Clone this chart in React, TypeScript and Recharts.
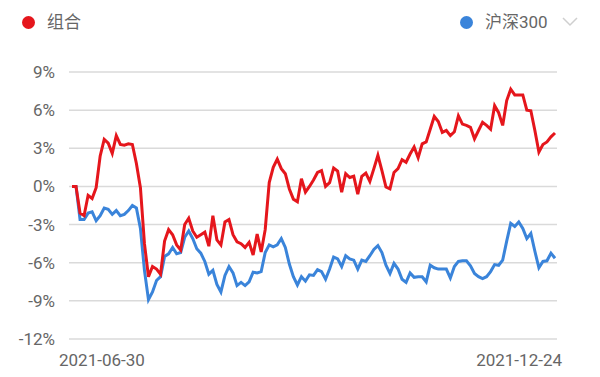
import React from 'react';
import { LineChart, Line, XAxis, YAxis, CartesianGrid } from 'recharts';

// daily cumulative return (%), 2021-06-30 .. 2021-12-24
const portfolio = [
    0, 0, -2.1, -2.3, -0.7, -0.95, -0.1, 2.4, 3.7, 3.4,
    2.6, 4.0, 3.3, 3.25, 3.35, 3.3, 1.8, -0.1, -4.5, -7.1,
    -6.3, -6.5, -6.9, -4.3, -3.4, -3.8, -4.6, -5.0, -3.0, -2.5,
    -3.5, -4.0, -3.8, -3.6, -4.7, -2.3, -4.2, -4.6, -2.8, -2.6,
    -3.8, -4.35, -4.5, -4.8, -4.4, -5.4, -3.75, -5.15, -3.4, 0.3,
    1.5, 2.15, 1.4, 1.0, -0.2, -1.0, -1.2, 0.6, -0.45, 0.0,
    0.5, 1.1, 1.25, 0.0, 0.3, 1.45, 1.2, -0.45, 1.0, 0.7,
    0.8, -0.6, 0.8, 1.05, 0.4, 1.4, 2.45, 1.25, -0.05, -0.2,
    1.1, 1.4, 2.1, 1.9, 2.55, 3.1, 2.25, 3.35, 3.5, 4.5,
    5.5, 5.1, 4.25, 4.4, 4.0, 4.3, 5.55, 4.9, 4.8, 4.65,
    3.75, 4.4, 5.05, 4.8, 4.5, 6.35, 5.8, 4.8, 6.75, 7.65,
    7.2, 7.2, 7.2, 6.0, 5.95, 4.4, 2.7, 3.3, 3.5, 3.9,
    4.2,
];

const csi300 = [
    0, 0, -2.6, -2.6, -2.1, -2.0, -2.7, -2.3, -1.7, -1.8,
    -2.2, -1.9, -2.3, -2.2, -1.9, -1.5, -1.7, -3.3, -6.6, -8.9,
    -8.3, -7.4, -7.1, -5.5, -5.3, -4.8, -5.3, -5.2, -4.0, -3.5,
    -4.1, -4.9, -5.25, -5.9, -6.9, -6.6, -7.7, -8.3, -7.0, -6.3,
    -6.8, -7.8, -7.55, -7.8, -7.5, -6.75, -6.8, -6.7, -5.2, -4.6,
    -4.75, -4.6, -4.1, -4.8, -6.1, -7.1, -7.75, -7.1, -7.45, -6.95,
    -7.0, -6.55, -6.7, -7.3, -6.5, -5.55, -5.7, -6.3, -5.45, -5.7,
    -5.8, -6.5, -5.8, -5.9, -5.45, -4.95, -4.65, -5.2, -6.2, -6.85,
    -6.05, -6.5, -7.3, -7.55, -6.8, -7.15, -7.1, -7.1, -7.5, -6.2,
    -6.4, -6.5, -6.5, -6.5, -7.2, -6.3, -5.9, -5.85, -5.85, -6.25,
    -6.85, -7.1, -7.25, -7.1, -6.7, -6.15, -6.2, -5.8, -4.3, -2.9,
    -3.15, -2.8, -3.3, -4.1, -3.7, -5.1, -6.4, -5.9, -5.85, -5.25,
    -5.65,
];

const seriesNames = ['组合', '沪深300'];
const dateLabels = ['2021-06-30', '2021-12-24'];
const yTicks = [-12, -9, -6, -3, 0, 3, 6, 9];

const RED = '#e5161c';
const BLUE = '#3a84da';
const TEXT = '#666';
const FONT = 'Roboto, "Noto Sans CJK SC", sans-serif';

const chartData = portfolio.map((v, i) => ({ i, portfolio: v, csi300: csi300[i] }));
const lastIdx = chartData.length - 1;

const DateTick = (props: any) => {
    const { x, y, payload } = props;
    const first = payload.value === 0;
    return (
        <text
            x={first ? x - 13 : x + 7}
            y={y}
            dy={12}
            textAnchor={first ? 'start' : 'end'}
            fill={TEXT}
            fontSize={17}
            fontFamily={FONT}
        >
            {first ? dateLabels[0] : dateLabels[1]}
        </text>
    );
};

const LegendItem = ({ color, label, left }: { color: string; label: string; left: number }) => (
    <div style={{ position: 'absolute', left, top: 12, height: 20, display: 'flex', alignItems: 'center' }}>
        <span style={{ width: 13, height: 13, borderRadius: '50%', background: color, display: 'inline-block' }} />
        <span style={{ marginLeft: 12, fontSize: 17, color: TEXT, lineHeight: '20px' }}>{label}</span>
    </div>
);

export default function App() {
    return (
        <div style={{ position: 'absolute', left: 0, top: 0, width: 600, height: 377, background: '#fff', fontFamily: FONT }}>
            <LegendItem color={RED} label={seriesNames[0]} left={22} />
            <LegendItem color={BLUE} label={seriesNames[1]} left={460} />
            <svg width={600} height={377} style={{ position: 'absolute', left: 0, top: 0, pointerEvents: 'none' }}>
                <polyline points="563,18 570,25 577,18" fill="none" stroke="#cfcfcf" strokeWidth={1.5} />
            </svg>
            <LineChart
                width={600}
                height={377}
                data={chartData}
                margin={{ top: 72, right: 43, bottom: 0, left: 0 }}
            >
                <CartesianGrid vertical={false} stroke="#dadada" strokeWidth={1.5} />
                <XAxis
                    dataKey="i"
                    type="number"
                    domain={[0, lastIdx]}
                    ticks={[0, lastIdx]}
                    padding={{ left: 3, right: 2 }}
                    axisLine={false}
                    tickLine={false}
                    tickSize={0}
                    tickMargin={15}
                    height={38}
                    tick={<DateTick />}
                />
                <YAxis
                    domain={[-12, 9]}
                    ticks={yTicks}
                    width={69}
                    axisLine={false}
                    tickLine={false}
                    tickSize={0}
                    tickMargin={14}
                    tick={{ fill: TEXT, fontSize: 17, fontFamily: FONT }}
                    tickFormatter={(v: number) => `${v}%`}
                />
                <Line
                    dataKey="csi300"
                    stroke={BLUE}
                    strokeWidth={3}
                    dot={false}
                    type="linear"
                    isAnimationActive={false}
                />
                <Line
                    dataKey="portfolio"
                    stroke={RED}
                    strokeWidth={3}
                    dot={false}
                    type="linear"
                    isAnimationActive={false}
                />
            </LineChart>
        </div>
    );
}
